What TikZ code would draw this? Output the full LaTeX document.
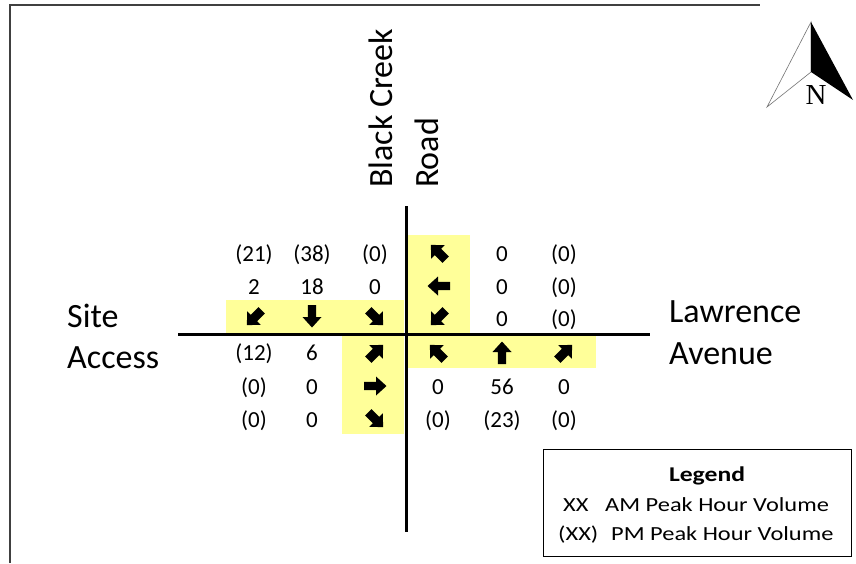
\documentclass[tikz,border=0pt]{standalone}
\usepackage{fontspec}
\setmainfont{Carlito}
\newfontfamily\widefont[FakeStretch=1.22]{Carlito}
\newfontfamily\compassfont{Liberation Serif}
\begin{document}
\begin{tikzpicture}[x=1pt,y=-1pt,
  road/.style={line width=3pt,black},
  lane/.style={fill=laneyellow,draw=none},
  vol/.style={font=\fontsize{23}{23}\selectfont,inner sep=0pt,anchor=base,yshift=-7.5pt},
  streetname/.style={font=\fontsize{34}{34}\selectfont,inner sep=0pt,anchor=base west},
  legendtext/.style={font=\widefont\fontsize{20}{20}\selectfont,inner sep=0pt,anchor=base west},
  frameline/.style={line width=1.4pt,draw=black!75},
  flow/.pic={\fill[black] (0,-11.5) -- (9.5,-1) -- (4.2,-1) -- (4.2,11) -- (-4.2,11) -- (-4.2,-1) -- (-9.5,-1) -- cycle;},
  dflow/.pic={\fill[black] (0,-11.5) -- (9.5,-1.5) -- (4.5,-1.5) -- (4.5,9.5) -- (-4.5,9.5) -- (-4.5,-1.5) -- (-9.5,-1.5) -- cycle;}
]
\definecolor{laneyellow}{RGB}{255,255,153}
\useasboundingbox (0,0) rectangle (856,563);
\fill[white] (0,0) rectangle (856,563);

% page frame (top and left edges)
\coordinate (fbl) at (10,563);
\coordinate (ftl) at (10,5);
\coordinate (ftr) at (760,5);
\draw[frameline] (fbl) -- (ftl) -- (ftr);

% highlighted lane groups
\fill[lane] (226,300) rectangle (404,333);
\fill[lane] (408,235) rectangle (470,333);
\fill[lane] (342,335) rectangle (404,434);
\fill[lane] (408,335) rectangle (596,368);

% roads
\coordinate (rw) at (178,334);
\coordinate (re) at (650,334);
\coordinate (rn) at (406,206);
\coordinate (rs) at (406,532);
\draw[road] (rw) -- (re);
\draw[road] (rn) -- (rs);

% southbound approach (north leg)
\node[vol] (sbpl) at (254,254) {(21)};
\node[vol] (sbpt) at (312,254) {(38)};
\node[vol] (sbpr) at (375,254) {(0)};
\node[vol] (sbal) at (254,287) {2};
\node[vol] (sbat) at (312,287) {18};
\node[vol] (sbar) at (375,287) {0};
\pic[rotate=135] at (255,317) {dflow};
\pic[rotate=180] at (312,316) {flow};
\pic[rotate=225] at (375,317) {dflow};

% westbound approach (east leg)
\pic[rotate=45] at (439,253) {dflow};
\pic[rotate=90] at (439,286) {flow};
\pic[rotate=135] at (439,317) {dflow};
\node[vol] (wbau) at (502,254) {0};
\node[vol] (wbpu) at (564,254) {(0)};
\node[vol] (wbat) at (502,287) {0};
\node[vol] (wbpt) at (564,287) {(0)};
\node[vol] (wbal) at (502,319) {0};
\node[vol] (wbpl) at (564,319) {(0)};

% eastbound approach (west leg)
\node[vol] (ebpl) at (254,353) {(12)};
\node[vol] (ebal) at (312,353) {6};
\node[vol] (ebpt) at (254,387) {(0)};
\node[vol] (ebat) at (312,387) {0};
\node[vol] (ebpr) at (254,420) {(0)};
\node[vol] (ebar) at (312,420) {0};
\pic[rotate=315] at (375,353) {dflow};
\pic[rotate=270] at (375,386) {flow};
\pic[rotate=225] at (375,419) {dflow};

% northbound approach (south leg)
\pic[rotate=45] at (438,353) {dflow};
\pic[rotate=0] at (502,353) {flow};
\pic[rotate=315] at (564,353) {dflow};
\node[vol] (nbal) at (438,387) {0};
\node[vol] (nbat) at (502,387) {56};
\node[vol] (nbar) at (564,387) {0};
\node[vol] (nbpl) at (438,420) {(0)};
\node[vol] (nbpt) at (502,420) {(23)};
\node[vol] (nbpr) at (564,420) {(0)};

% street names
\node[streetname] (site) at (67,327) {Site};
\node[streetname] (access) at (67,368) {Access};
\node[streetname] (lawr) at (669,322) {Lawrence};
\node[streetname] (aven) at (669,364) {Avenue};
\node[streetname,rotate=90] (bcr1) at (392,188) {Black Creek};
\node[streetname,rotate=90] (bcr2) at (438,188) {Road};

% north arrow
\coordinate (ntip) at (811,22);
\coordinate (nin) at (811,72);
\coordinate (nbl) at (767,107);
\coordinate (nbr) at (853,100);
\draw[black!55,line width=0.6pt] (ntip) -- (nbl) -- (nin) -- cycle;
\fill[black] (ntip) -- (nin) -- (nbr) -- cycle;
\node[font=\compassfont\fontsize{29}{29}\selectfont,inner sep=0pt,anchor=base] (north) at (816,104) {N};

% legend
\node[draw=black,line width=1.2pt,minimum width=308pt,minimum height=107pt,anchor=north west,inner sep=0pt] (legend) at (543,449) {};
\node[font=\widefont\bfseries\fontsize{21}{21}\selectfont,inner sep=0pt,anchor=base] (legtitle) at (707,481) {Legend};
\node[legendtext] (legam) at (563,511) {XX};
\node[legendtext] (legamt) at (605,511) {AM Peak Hour Volume};
\node[legendtext] (legpm) at (558,540) {(XX)};
\node[legendtext] (legpmt) at (611,540) {PM Peak Hour Volume};
\end{tikzpicture}
\end{document}
